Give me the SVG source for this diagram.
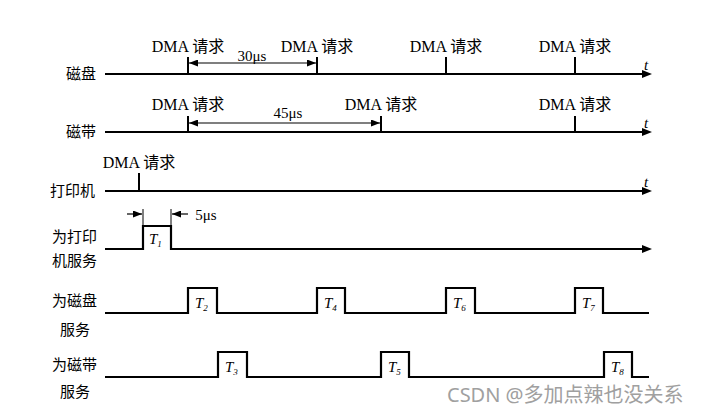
<svg xmlns="http://www.w3.org/2000/svg" width="704" height="413" viewBox="0 0 704 413">
<defs>
<style>
.axis{stroke:#000;stroke-width:2;fill:none}
.tick{stroke:#000;stroke-width:2}
.pulse{stroke:#000;stroke-width:2.2;fill:none;stroke-linejoin:miter}
.dim{stroke:#000;stroke-width:1.2;fill:none}
.ext{stroke:#000;stroke-width:1}
.lbl{font-family:"Noto Sans CJK SC","Noto Sans CJK JP",sans-serif;font-size:15px;fill:#000}
.dma{font-family:"Liberation Serif","Noto Sans CJK SC",serif;font-size:16px;fill:#000;text-anchor:middle}
.us{font-family:"Liberation Serif",serif;font-size:15px;fill:#000;text-anchor:middle}
.tt{font-family:"Liberation Serif",serif;font-size:15px;font-style:italic;fill:#000}
.sub{font-size:9px}
.wm{font-family:"Noto Sans","Noto Sans CJK SC",sans-serif;font-size:20px;fill:#a0a0a0}
</style>
<marker id="ah" markerUnits="userSpaceOnUse" markerWidth="10" markerHeight="8" refX="3" refY="4" orient="auto">
<path d="M0,0 L10,4 L0,8 z" fill="#000"/>
</marker>
<marker id="dh" markerUnits="userSpaceOnUse" markerWidth="9" markerHeight="7" refX="9" refY="3.5" orient="auto-start-reverse">
<path d="M0,0 L9,3.5 L0,7 z" fill="#000"/>
</marker>
</defs>
<rect width="704" height="413" fill="#fff"/>

<g id="disk">
<text class="lbl" x="66" y="79">磁盘</text>
<line class="axis" x1="105" y1="74" x2="645" y2="74" marker-end="url(#ah)"/>
<text class="tt" x="644" y="70">t</text>
<line class="tick" x1="188" y1="57" x2="188" y2="74"/>
<line class="tick" x1="317" y1="57" x2="317" y2="74"/>
<line class="tick" x1="446" y1="57" x2="446" y2="74"/>
<line class="tick" x1="575" y1="57" x2="575" y2="74"/>
<text class="dma" x="188" y="52">DMA 请求</text>
<text class="dma" x="317" y="52">DMA 请求</text>
<text class="dma" x="446" y="52">DMA 请求</text>
<text class="dma" x="575" y="52">DMA 请求</text>
</g>

<g id="tape">
<text class="lbl" x="66" y="137">磁带</text>
<line class="axis" x1="105" y1="132" x2="645" y2="132" marker-end="url(#ah)"/>
<text class="tt" x="644" y="128">t</text>
<line class="tick" x1="188" y1="116" x2="188" y2="132"/>
<line class="tick" x1="381" y1="116" x2="381" y2="132"/>
<line class="tick" x1="575" y1="116" x2="575" y2="132"/>
<text class="dma" x="188" y="110">DMA 请求</text>
<text class="dma" x="381" y="110">DMA 请求</text>
<text class="dma" x="575" y="110">DMA 请求</text>
</g>

<g id="printer">
<text class="lbl" x="50" y="196">打印机</text>
<line class="axis" x1="105" y1="191" x2="645" y2="191" marker-end="url(#ah)"/>
<text class="tt" x="644" y="187">t</text>
<line class="tick" x1="139" y1="173" x2="139" y2="191"/>
<text class="dma" x="139" y="168">DMA 请求</text>
</g>

<g id="serve-printer">
<text class="lbl" x="52" y="242">为打印</text>
<text class="lbl" x="52" y="266">机服务</text>
<path class="pulse" d="M105,249 H143 V226 H171 V249 H645" marker-end="url(#ah)"/>
<line class="ext" x1="143" y1="209" x2="143" y2="226"/>
<line class="ext" x1="171" y1="209" x2="171" y2="226"/>
<text class="tt" x="149" y="244">T<tspan class="sub" dy="3">1</tspan></text>
</g>

<g id="serve-disk">
<text class="lbl" x="52" y="306">为磁盘</text>
<text class="lbl" x="60" y="335">服务</text>
<path class="pulse" d="M105,313 H188 V288 H217 V313 H317 V288 H345 V313 H446 V288 H475 V313 H575 V288 H603 V313 H649"/>
<text class="tt" x="195" y="308">T<tspan class="sub" dy="3">2</tspan></text>
<text class="tt" x="324" y="308">T<tspan class="sub" dy="3">4</tspan></text>
<text class="tt" x="453" y="308">T<tspan class="sub" dy="3">6</tspan></text>
<text class="tt" x="582" y="308">T<tspan class="sub" dy="3">7</tspan></text>
</g>

<g id="serve-tape">
<text class="lbl" x="52" y="370">为磁带</text>
<text class="lbl" x="60" y="397">服务</text>
<path class="pulse" d="M105,377 H218 V352 H247 V377 H381 V352 H409 V377 H604 V352 H632 V377 H649"/>
<text class="tt" x="225" y="372">T<tspan class="sub" dy="3">3</tspan></text>
<text class="tt" x="388" y="372">T<tspan class="sub" dy="3">5</tspan></text>
<text class="tt" x="611" y="372">T<tspan class="sub" dy="3">8</tspan></text>
</g>

<g id="connectors">
<line class="dim" x1="189" y1="63" x2="316" y2="63" marker-start="url(#dh)" marker-end="url(#dh)"/>
<text class="us" x="252" y="61">30μs</text>
<line class="dim" x1="189" y1="123" x2="380" y2="123" marker-start="url(#dh)" marker-end="url(#dh)"/>
<text class="us" x="288" y="118">45μs</text>
<line class="dim" x1="127" y1="214" x2="142" y2="214" marker-end="url(#dh)"/>
<line class="dim" x1="188" y1="214" x2="172" y2="214" marker-end="url(#dh)"/>
<text class="us" x="206" y="220">5μs</text>
</g>

<text class="wm" x="447" y="402">CSDN @多加点辣也没关系</text>
</svg>
